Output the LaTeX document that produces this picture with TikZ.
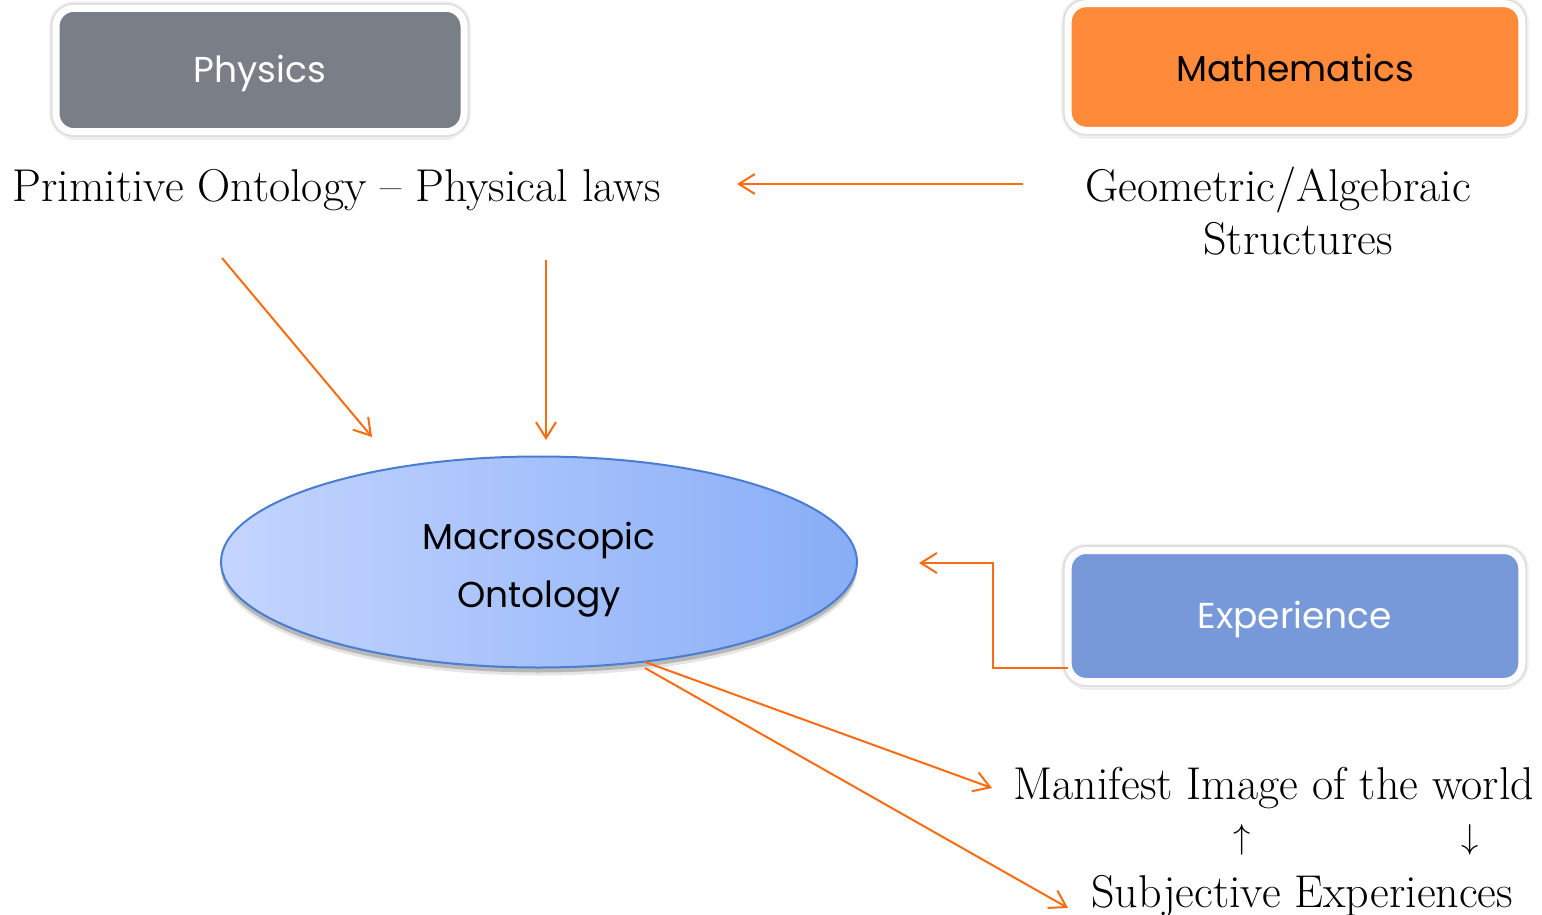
\documentclass[tikz,border=0pt]{standalone}
\usepackage{fontspec}
\newfontfamily\labelfont{Poppins}
\usetikzlibrary{arrows.meta,shapes.geometric,shadows}
\definecolor{physgrey}{RGB}{122,126,135}
\definecolor{mathorange}{RGB}{255,138,58}
\definecolor{expblue}{RGB}{119,153,217}
\definecolor{arroworange}{RGB}{250,108,18}
\definecolor{ellborder}{RGB}{74,125,208}
\definecolor{ellleft}{RGB}{196,213,255}
\definecolor{ellmid}{RGB}{180,204,253}
\definecolor{ellright}{RGB}{136,173,246}
\tikzset{
  softshadow/.style={drop shadow={shadow xshift=0pt,shadow yshift=-2.5pt,opacity=.20,fill=black},
                     drop shadow={shadow xshift=0pt,shadow yshift=-4pt,opacity=.10,fill=black}},
  halo/.style={preaction={draw=black!5,line width=7pt},preaction={draw=black!13,line width=5.4pt}},
  topicbox/.style={draw=white,line width=3.5pt,rounded corners=9pt,inner sep=0pt,
     font=\labelfont\fontsize{18}{22}\selectfont,softshadow,halo},
  serif/.style={inner sep=0pt,font=\fontsize{23}{28}\selectfont},
  conn/.style={draw=arroworange,line width=1pt,-{Straight Barb[length=8pt,width=10pt]}},
}
\begin{document}
\begin{tikzpicture}[x=0.5pt,y=-0.5pt]
\useasboundingbox (0,0) rectangle (1542,915);

% boxes
\node[topicbox,fill=physgrey,text=white,minimum width=204pt,minimum height=61.7pt] (phys) at (260,70) {\rule{0pt}{17pt}Physics};
\node[topicbox,fill=mathorange,text=black,minimum width=226.8pt,minimum height=63.3pt] (math) at (1295,67) {\rule{0pt}{15pt}Mathematics};
\node[topicbox,fill=expblue,text=white,minimum width=226.8pt,minimum height=65.5pt] (exper) at (1295,616) {\rule{0pt}{17pt}Experience};

% ellipse
\node[ellipse,draw=ellborder,line width=1pt,inner sep=0pt,minimum width=318pt,minimum height=105.5pt,
  left color=ellleft,middle color=ellmid,right color=ellright,softshadow,align=center,
  font=\labelfont\fontsize{18}{29}\selectfont] (macro) at (539,562) {\rule{0pt}{21pt}Macroscopic\\Ontology};

% texts
\node[serif,anchor=base west] (prim) at (12,201) {Primitive Ontology -- Physical laws};
\node[serif,anchor=base] (geoa) at (1278,201) {Geometric/Algebraic};
\node[serif,anchor=base] (geob) at (1298,254) {Structures};
\node[serif,anchor=base west] (manif) at (1013,799) {Manifest Image of the world};
\node[inner sep=0pt,font=\fontsize{17}{20}\selectfont] (uparr) at (1242,840) {$\uparrow$};
\node[inner sep=0pt,font=\fontsize{17}{20}\selectfont] (downarr) at (1470,840) {$\downarrow$};
\node[serif,anchor=base west] (subj) at (1091,907) {Subjective Experiences};

% connector ends
\coordinate (g0) at (1023,184);
\coordinate (g1) at (737,184);
\coordinate (p0) at (222,258);
\coordinate (p1) at (372,437);
\coordinate (q0) at (546,260);
\coordinate (q1) at (546,440);
\coordinate (e0) at (1068,668);
\coordinate (e1) at (919,563);
\coordinate (m0) at (645,662);
\coordinate (m1) at (992,788);
\coordinate (s0) at (645,668);
\coordinate (s1) at (1068,908);

\draw[conn] (g0) -- (g1);
\draw[conn] (p0) -- (p1);
\draw[conn] (q0) -- (q1);
\draw[conn] (e0) -- (993,668) -- (993,563) -- (e1);
\draw[conn] (m0) -- (m1);
\draw[conn] (s0) -- (s1);
\end{tikzpicture}
\end{document}
